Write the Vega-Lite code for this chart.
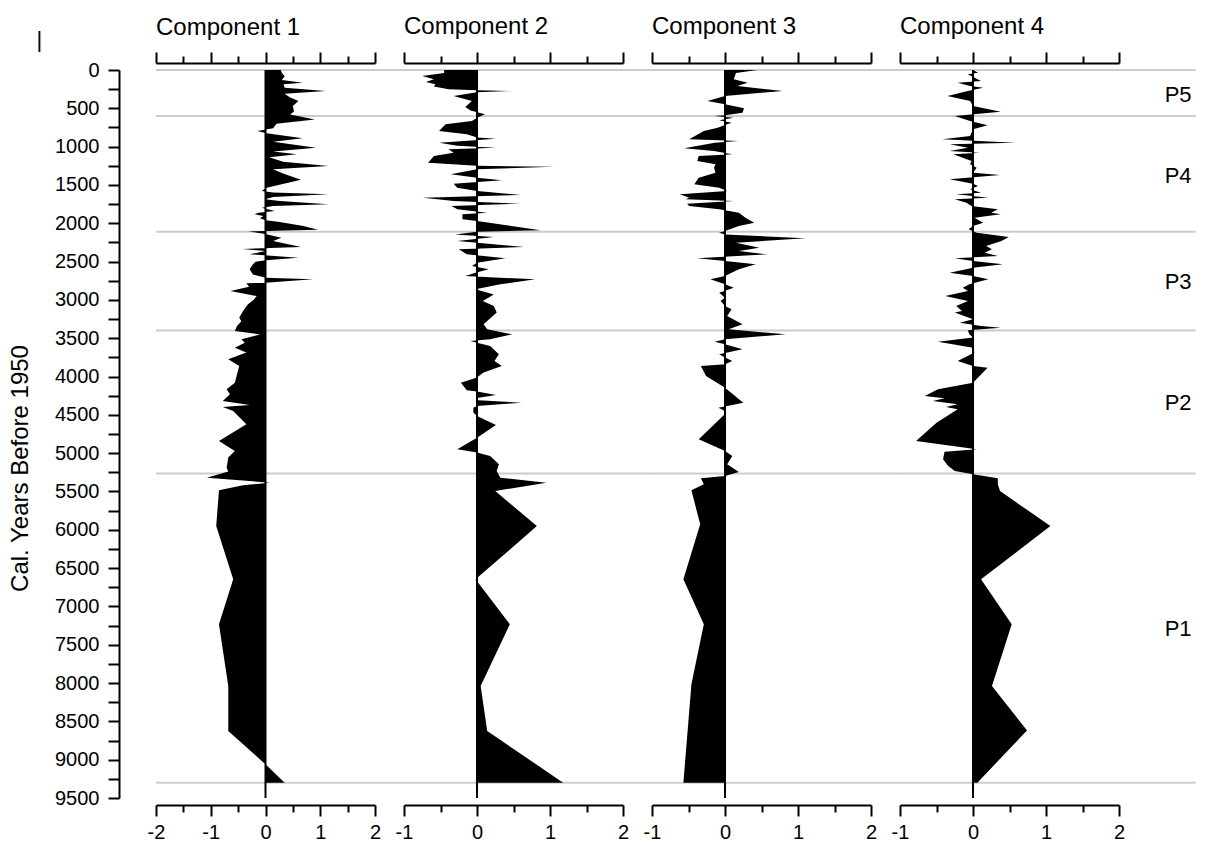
{
  "$schema": "https://vega.github.io/schema/vega-lite/v6.json",
  "background": "white",
  "padding": {"left": 8, "top": 15, "right": 3, "bottom": 2},
  "spacing": 29,
  "bounds": "flush",
  "config": {
    "font": "Liberation Sans",
    "view": {"stroke": null},
    "axis": {
      "domainColor": "black", "domainWidth": 2, "tickColor": "black", "tickWidth": 2,
      "labelColor": "black", "labelFont": "Liberation Sans", "labelFontSize": 20,
      "titleFont": "Liberation Sans", "titleColor": "black", "titleFontWeight": "normal",
      "grid": false, "labelOverlap": false, "labelFlush": false
    },
    "title": {"font": "Liberation Sans", "fontSize": 24, "fontWeight": "normal", "color": "black", "anchor": "start", "frame": "group", "offset": 12}
  },
  "datasets": {
    "boundaries": [{"year": 0}, {"year": 600}, {"year": 2110}, {"year": 3400}, {"year": 5265}, {"year": 9300}],
    "periods": [
      {"period": "P5", "year": 320}, {"period": "P4", "year": 1380}, {"period": "P3", "year": 2760},
      {"period": "P2", "year": 4345}, {"period": "P1", "year": 7300}
    ],
    "c1": [
      {"year": 0, "score": 0.28}, {"year": 40, "score": 0.3}, {"year": 80, "score": 0.35}, {"year": 130, "score": 0.3},
      {"year": 165, "score": 0.68}, {"year": 185, "score": 0.33}, {"year": 230, "score": 0.35}, {"year": 275, "score": 1.1},
      {"year": 310, "score": 0.35}, {"year": 360, "score": 0.45}, {"year": 405, "score": 0.6}, {"year": 470, "score": 0.5},
      {"year": 540, "score": 0.52}, {"year": 580, "score": 0.45}, {"year": 645, "score": 0.9}, {"year": 700, "score": 0.2},
      {"year": 760, "score": 0.14}, {"year": 796, "score": -0.15}, {"year": 826, "score": 0.02}, {"year": 892, "score": 0.68},
      {"year": 935, "score": 0.14}, {"year": 1013, "score": 0.92}, {"year": 1065, "score": 0.14}, {"year": 1100, "score": 0.57},
      {"year": 1140, "score": 0.07}, {"year": 1196, "score": 0.32}, {"year": 1253, "score": 1.15}, {"year": 1296, "score": 0.14},
      {"year": 1352, "score": 0.32}, {"year": 1431, "score": 0.65}, {"year": 1535, "score": 0.02}, {"year": 1579, "score": -0.07},
      {"year": 1600, "score": 0.14}, {"year": 1622, "score": 1.15}, {"year": 1657, "score": 0.14}, {"year": 1688, "score": -0.01},
      {"year": 1710, "score": 0.26}, {"year": 1753, "score": 1.15}, {"year": 1775, "score": 0.14}, {"year": 1797, "score": -0.07},
      {"year": 1840, "score": 0.17}, {"year": 1862, "score": -0.13}, {"year": 1884, "score": -0.2}, {"year": 1906, "score": -0.04},
      {"year": 1936, "score": -0.1}, {"year": 1962, "score": 0}, {"year": 1984, "score": 0.26}, {"year": 2036, "score": 0.69},
      {"year": 2085, "score": 0.96}, {"year": 2105, "score": -0.32}, {"year": 2140, "score": 0}, {"year": 2190, "score": 0.29},
      {"year": 2230, "score": 0.14}, {"year": 2310, "score": 0.65}, {"year": 2336, "score": -0.42}, {"year": 2362, "score": 0},
      {"year": 2405, "score": -0.29}, {"year": 2449, "score": 0.6}, {"year": 2484, "score": 0}, {"year": 2501, "score": -0.18},
      {"year": 2536, "score": -0.23}, {"year": 2601, "score": -0.29}, {"year": 2667, "score": -0.23}, {"year": 2710, "score": 0},
      {"year": 2732, "score": 0.87}, {"year": 2775, "score": 0}, {"year": 2784, "score": -0.35}, {"year": 2830, "score": -0.3},
      {"year": 2884, "score": -0.64}, {"year": 2950, "score": -0.16}, {"year": 3000, "score": -0.22}, {"year": 3058, "score": -0.32},
      {"year": 3145, "score": -0.41}, {"year": 3232, "score": -0.48}, {"year": 3280, "score": -0.44}, {"year": 3340, "score": -0.52},
      {"year": 3405, "score": -0.56}, {"year": 3450, "score": -0.1}, {"year": 3514, "score": -0.44}, {"year": 3558, "score": -0.38},
      {"year": 3623, "score": -0.56}, {"year": 3688, "score": -0.35}, {"year": 3775, "score": -0.68}, {"year": 3862, "score": -0.48},
      {"year": 4080, "score": -0.56}, {"year": 4167, "score": -0.71}, {"year": 4232, "score": -0.65}, {"year": 4319, "score": -0.78},
      {"year": 4371, "score": -0.29}, {"year": 4397, "score": -0.78}, {"year": 4450, "score": -0.59}, {"year": 4624, "score": -0.35},
      {"year": 4841, "score": -0.85}, {"year": 4971, "score": -0.56}, {"year": 5058, "score": -0.68}, {"year": 5189, "score": -0.71},
      {"year": 5240, "score": -0.68}, {"year": 5320, "score": -1.07}, {"year": 5385, "score": 0.08}, {"year": 5420, "score": -0.41},
      {"year": 5485, "score": -0.85}, {"year": 5951, "score": -0.9}, {"year": 6647, "score": -0.59}, {"year": 7234, "score": -0.85},
      {"year": 8039, "score": -0.68}, {"year": 8626, "score": -0.68}, {"year": 9061, "score": 0}, {"year": 9300, "score": 0.35}
    ],
    "c2": [
      {"year": 0, "score": -0.45}, {"year": 40, "score": -0.45}, {"year": 78, "score": -0.75}, {"year": 120, "score": -0.59},
      {"year": 157, "score": -0.7}, {"year": 185, "score": -0.57}, {"year": 215, "score": -0.59}, {"year": 252, "score": -0.39},
      {"year": 265, "score": 0}, {"year": 274, "score": 0.48}, {"year": 290, "score": 0}, {"year": 339, "score": -0.32},
      {"year": 405, "score": -0.07}, {"year": 483, "score": -0.16}, {"year": 530, "score": -0.09}, {"year": 579, "score": 0.11},
      {"year": 622, "score": 0}, {"year": 666, "score": -0.07}, {"year": 709, "score": -0.43}, {"year": 796, "score": -0.52},
      {"year": 840, "score": -0.14}, {"year": 880, "score": 0}, {"year": 896, "score": 0.26}, {"year": 948, "score": -0.52},
      {"year": 990, "score": -0.27}, {"year": 1013, "score": 0.26}, {"year": 1035, "score": -0.39}, {"year": 1079, "score": -0.32},
      {"year": 1122, "score": -0.59}, {"year": 1209, "score": -0.67}, {"year": 1250, "score": 0}, {"year": 1262, "score": 1.05},
      {"year": 1296, "score": 0}, {"year": 1362, "score": -0.36}, {"year": 1405, "score": 0}, {"year": 1440, "score": 0.34},
      {"year": 1483, "score": -0.32}, {"year": 1536, "score": -0.27}, {"year": 1579, "score": 0}, {"year": 1631, "score": 0.6},
      {"year": 1666, "score": -0.74}, {"year": 1710, "score": -0.32}, {"year": 1744, "score": 0.6}, {"year": 1775, "score": -0.35},
      {"year": 1818, "score": -0.27}, {"year": 1862, "score": 0.14}, {"year": 1884, "score": -0.2}, {"year": 1949, "score": -0.2},
      {"year": 1970, "score": 0}, {"year": 2092, "score": 0.87}, {"year": 2110, "score": 0}, {"year": 2145, "score": -0.3},
      {"year": 2180, "score": 0.23}, {"year": 2232, "score": -0.27}, {"year": 2253, "score": 0}, {"year": 2310, "score": 0.64},
      {"year": 2340, "score": -0.25}, {"year": 2405, "score": -0.14}, {"year": 2458, "score": 0.39}, {"year": 2514, "score": 0},
      {"year": 2557, "score": -0.07}, {"year": 2601, "score": 0.16}, {"year": 2645, "score": -0.02}, {"year": 2688, "score": -0.16},
      {"year": 2732, "score": 0.8}, {"year": 2797, "score": 0.32}, {"year": 2862, "score": -0.02}, {"year": 2928, "score": 0.23},
      {"year": 3014, "score": 0.08}, {"year": 3080, "score": 0.23}, {"year": 3166, "score": 0.27}, {"year": 3275, "score": 0.14},
      {"year": 3319, "score": 0.09}, {"year": 3384, "score": 0.14}, {"year": 3449, "score": 0.48}, {"year": 3514, "score": 0.18},
      {"year": 3536, "score": -0.09}, {"year": 3558, "score": 0}, {"year": 3601, "score": 0.18}, {"year": 3710, "score": 0.3},
      {"year": 3797, "score": 0.24}, {"year": 3862, "score": 0.34}, {"year": 3949, "score": 0.09}, {"year": 4014, "score": 0},
      {"year": 4080, "score": -0.22}, {"year": 4180, "score": -0.14}, {"year": 4197, "score": 0}, {"year": 4241, "score": 0.26},
      {"year": 4284, "score": -0.02}, {"year": 4310, "score": 0.02}, {"year": 4341, "score": 0.61}, {"year": 4384, "score": 0},
      {"year": 4406, "score": -0.05}, {"year": 4471, "score": -0.05}, {"year": 4514, "score": 0}, {"year": 4632, "score": 0.26},
      {"year": 4798, "score": 0}, {"year": 4950, "score": -0.27}, {"year": 4993, "score": 0}, {"year": 5037, "score": 0.18},
      {"year": 5146, "score": 0.3}, {"year": 5233, "score": 0.27}, {"year": 5320, "score": 0.32}, {"year": 5385, "score": 0.95},
      {"year": 5494, "score": 0.25}, {"year": 5951, "score": 0.82}, {"year": 6647, "score": -0.02}, {"year": 7234, "score": 0.45},
      {"year": 8039, "score": 0.05}, {"year": 8626, "score": 0.14}, {"year": 9300, "score": 1.18}
    ],
    "c3": [
      {"year": 0, "score": 0.44}, {"year": 40, "score": 0.15}, {"year": 122, "score": 0.12}, {"year": 165, "score": 0.31},
      {"year": 210, "score": 0.17}, {"year": 274, "score": 0.79}, {"year": 339, "score": 0}, {"year": 405, "score": -0.24},
      {"year": 448, "score": 0}, {"year": 500, "score": 0.26}, {"year": 557, "score": 0.24}, {"year": 590, "score": 0},
      {"year": 600, "score": -0.15}, {"year": 622, "score": 0.12}, {"year": 657, "score": -0.08}, {"year": 687, "score": 0.09},
      {"year": 718, "score": 0}, {"year": 753, "score": -0.1}, {"year": 796, "score": -0.29}, {"year": 905, "score": -0.49},
      {"year": 918, "score": -0.08}, {"year": 926, "score": 0.18}, {"year": 948, "score": -0.14}, {"year": 1022, "score": -0.56},
      {"year": 1057, "score": -0.15}, {"year": 1100, "score": 0.1}, {"year": 1122, "score": -0.36}, {"year": 1188, "score": -0.38},
      {"year": 1231, "score": -0.13}, {"year": 1275, "score": -0.15}, {"year": 1340, "score": -0.13}, {"year": 1405, "score": -0.36},
      {"year": 1492, "score": -0.42}, {"year": 1536, "score": -0.08}, {"year": 1579, "score": 0.03}, {"year": 1622, "score": -0.62},
      {"year": 1666, "score": -0.49}, {"year": 1688, "score": -0.54}, {"year": 1710, "score": 0.12}, {"year": 1744, "score": -0.52},
      {"year": 1775, "score": -0.49}, {"year": 1818, "score": -0.08}, {"year": 1862, "score": 0.19}, {"year": 1927, "score": 0.28},
      {"year": 1992, "score": 0.4}, {"year": 2036, "score": 0.19}, {"year": 2101, "score": 0}, {"year": 2123, "score": -0.08},
      {"year": 2145, "score": 0}, {"year": 2197, "score": 1.1}, {"year": 2253, "score": 0.15}, {"year": 2319, "score": 0.47},
      {"year": 2362, "score": 0.19}, {"year": 2405, "score": 0.58}, {"year": 2458, "score": -0.38}, {"year": 2492, "score": 0},
      {"year": 2536, "score": 0.42}, {"year": 2601, "score": 0.19}, {"year": 2688, "score": 0}, {"year": 2732, "score": -0.2},
      {"year": 2797, "score": 0}, {"year": 2841, "score": 0.12}, {"year": 2906, "score": -0.08}, {"year": 2971, "score": 0},
      {"year": 3014, "score": -0.06}, {"year": 3080, "score": 0}, {"year": 3123, "score": 0.09}, {"year": 3210, "score": 0.03},
      {"year": 3319, "score": 0.24}, {"year": 3384, "score": 0.05}, {"year": 3449, "score": 0.83}, {"year": 3514, "score": 0},
      {"year": 3545, "score": -0.14}, {"year": 3580, "score": 0}, {"year": 3645, "score": 0.24}, {"year": 3710, "score": -0.08},
      {"year": 3753, "score": 0}, {"year": 3797, "score": 0.1}, {"year": 3840, "score": 0}, {"year": 3862, "score": -0.33},
      {"year": 3993, "score": -0.26}, {"year": 4145, "score": 0}, {"year": 4210, "score": 0.08}, {"year": 4341, "score": 0.25},
      {"year": 4406, "score": -0.09}, {"year": 4450, "score": 0}, {"year": 4490, "score": 0}, {"year": 4819, "score": -0.36},
      {"year": 4971, "score": 0}, {"year": 5037, "score": 0.1}, {"year": 5145, "score": 0.03}, {"year": 5245, "score": 0.19},
      {"year": 5298, "score": 0}, {"year": 5329, "score": -0.33}, {"year": 5407, "score": -0.29}, {"year": 5485, "score": -0.46},
      {"year": 5929, "score": -0.34}, {"year": 6647, "score": -0.57}, {"year": 7234, "score": -0.29}, {"year": 8017, "score": -0.46},
      {"year": 9300, "score": -0.57}
    ],
    "c4": [
      {"year": 0, "score": 0}, {"year": 35, "score": 0.07}, {"year": 57, "score": -0.07}, {"year": 100, "score": 0.02},
      {"year": 144, "score": 0.11}, {"year": 165, "score": -0.21}, {"year": 210, "score": -0.04}, {"year": 231, "score": 0.14},
      {"year": 275, "score": -0.07}, {"year": 339, "score": -0.35}, {"year": 405, "score": -0.04}, {"year": 470, "score": 0},
      {"year": 544, "score": 0.38}, {"year": 600, "score": -0.25}, {"year": 666, "score": -0.04}, {"year": 722, "score": 0.2},
      {"year": 774, "score": 0}, {"year": 861, "score": -0.04}, {"year": 905, "score": -0.42}, {"year": 948, "score": 0.58},
      {"year": 970, "score": -0.32}, {"year": 1013, "score": -0.07}, {"year": 1057, "score": -0.32}, {"year": 1079, "score": 0.09},
      {"year": 1100, "score": -0.27}, {"year": 1188, "score": -0.02}, {"year": 1231, "score": -0.04}, {"year": 1275, "score": 0.05},
      {"year": 1340, "score": 0}, {"year": 1370, "score": 0.37}, {"year": 1427, "score": -0.32}, {"year": 1483, "score": 0},
      {"year": 1514, "score": 0.07}, {"year": 1557, "score": -0.04}, {"year": 1601, "score": 0.11}, {"year": 1622, "score": -0.23},
      {"year": 1666, "score": 0.21}, {"year": 1688, "score": -0.25}, {"year": 1731, "score": -0.09}, {"year": 1775, "score": -0.02},
      {"year": 1818, "score": 0.34}, {"year": 1862, "score": 0.25}, {"year": 1884, "score": 0.38}, {"year": 1927, "score": 0.02},
      {"year": 1992, "score": 0.14}, {"year": 2036, "score": 0}, {"year": 2079, "score": -0.06}, {"year": 2123, "score": 0.05},
      {"year": 2180, "score": 0.49}, {"year": 2232, "score": 0.39}, {"year": 2297, "score": 0.18}, {"year": 2340, "score": 0.26},
      {"year": 2384, "score": 0.16}, {"year": 2427, "score": 0.34}, {"year": 2458, "score": -0.25}, {"year": 2492, "score": 0},
      {"year": 2536, "score": 0.41}, {"year": 2580, "score": 0}, {"year": 2645, "score": -0.32}, {"year": 2688, "score": 0},
      {"year": 2732, "score": 0.21}, {"year": 2797, "score": -0.05}, {"year": 2841, "score": -0.14}, {"year": 2884, "score": -0.07},
      {"year": 2949, "score": -0.38}, {"year": 3014, "score": -0.07}, {"year": 3080, "score": -0.23}, {"year": 3145, "score": -0.15},
      {"year": 3166, "score": -0.25}, {"year": 3253, "score": 0}, {"year": 3297, "score": -0.18}, {"year": 3340, "score": 0.11},
      {"year": 3362, "score": 0.38}, {"year": 3397, "score": -0.07}, {"year": 3449, "score": -0.05}, {"year": 3492, "score": 0},
      {"year": 3545, "score": -0.48}, {"year": 3623, "score": 0}, {"year": 3688, "score": 0.02}, {"year": 3797, "score": -0.21},
      {"year": 3862, "score": 0}, {"year": 3884, "score": 0.2}, {"year": 4080, "score": 0}, {"year": 4167, "score": -0.48},
      {"year": 4254, "score": -0.66}, {"year": 4284, "score": -0.39}, {"year": 4319, "score": -0.55}, {"year": 4362, "score": -0.21},
      {"year": 4397, "score": -0.37}, {"year": 4428, "score": -0.21}, {"year": 4602, "score": -0.5}, {"year": 4841, "score": -0.78},
      {"year": 4950, "score": 0.05}, {"year": 4980, "score": -0.39}, {"year": 5080, "score": -0.41}, {"year": 5167, "score": -0.34},
      {"year": 5233, "score": -0.25}, {"year": 5276, "score": 0}, {"year": 5329, "score": 0.34}, {"year": 5407, "score": 0.34},
      {"year": 5494, "score": 0.37}, {"year": 5951, "score": 1.06}, {"year": 6647, "score": 0.11}, {"year": 7234, "score": 0.53},
      {"year": 8039, "score": 0.26}, {"year": 8618, "score": 0.74}, {"year": 9300, "score": 0.06}
    ]
  },
  "resolve": {"scale": {"x": "independent", "y": "independent"}, "axis": {"x": "independent", "y": "independent"}},
  "hconcat": [
    {
      "width": 219, "height": 728,
      "title": {"text": "Component 1", "offset": -11},
      "resolve": {"axis": {"x": "independent", "y": "independent"}},
      "layer": [
        {
          "data": {"name": "boundaries"},
          "mark": {"type": "rule", "color": "#cccccc", "strokeWidth": 2},
          "encoding": {
            "y": {"field": "year", "type": "quantitative", "scale": {"domain": [0, 9500], "reverse": true, "nice": false}, "axis": null},
            "x": {"datum": -2, "type": "quantitative", "scale": {"domain": [-2, 2], "nice": false}, "axis": null},
            "x2": {"datum": 2.53}
          }
        },
        {
          "data": {"name": "c1"},
          "mark": {"type": "area", "orient": "horizontal", "color": "black"},
          "encoding": {
            "y": {
              "field": "year", "type": "quantitative",
              "scale": {"domain": [0, 9500], "reverse": true, "nice": false},
              "axis": {
                "orient": "left", "offset": 37, "tickSize": 11, "labelPadding": 9,
                "values": [0, 250, 500, 750, 1000, 1250, 1500, 1750, 2000, 2250, 2500, 2750, 3000, 3250, 3500, 3750, 4000, 4250, 4500, 4750, 5000, 5250, 5500, 5750, 6000, 6250, 6500, 6750, 7000, 7250, 7500, 7750, 8000, 8250, 8500, 8750, 9000, 9250, 9500],
                "labelExpr": "datum.value % 500 === 0 ? '' + datum.value : ''",
                "title": "Cal. Years Before 1950", "titleFontSize": 24, "titlePadding": 22, "titleY": 398
              }
            },
            "x": {
              "field": "score", "type": "quantitative", "stack": null,
              "scale": {"domain": [-2, 2], "nice": false},
              "axis": {
                "orient": "bottom", "offset": 7, "title": null, "labelPadding": 6,
                "values": [-2, -1.5, -1, -0.5, 0, 0.5, 1, 1.5, 2],
                "tickSize": {"condition": {"test": "datum.value % 1 === 0", "value": 11}, "value": 7},
                "labelExpr": "datum.value % 1 === 0 ? '' + datum.value : ''"
              }
            }
          }
        },
        {
          "data": {"values": [{}]},
          "mark": {"type": "rule", "color": "black", "strokeWidth": 2},
          "encoding": {
            "x": {
              "datum": 0, "type": "quantitative", "scale": {"domain": [-2, 2], "nice": false},
              "axis": {
                "orient": "top", "offset": 7, "title": null, "labels": false,
                "values": [-2, -1.5, -1, -0.5, 0, 0.5, 1, 1.5, 2],
                "tickSize": {"condition": {"test": "datum.value % 1 === 0", "value": 11}, "value": 7}
              }
            },
            "y": {"datum": 0, "type": "quantitative", "scale": {"domain": [0, 9500], "reverse": true, "nice": false}, "axis": null},
            "y2": {"datum": 9500}
          }
        },
        {
          "data": {"values": [{}]},
          "mark": {"type": "text", "text": "|", "fontSize": 22, "color": "black", "align": "center", "baseline": "middle"},
          "encoding": {
            "x": {"datum": -4.13, "type": "quantitative", "scale": {"domain": [-2, 2], "nice": false}, "axis": null},
            "y": {"datum": -391, "type": "quantitative", "scale": {"domain": [0, 9500], "reverse": true, "nice": false}, "axis": null}
          }
        }
      ]
    },
    {
      "width": 219, "height": 728,
      "title": {"text": "Component 2"},
      "resolve": {"axis": {"x": "independent", "y": "independent"}},
      "layer": [
        {
          "data": {"name": "boundaries"},
          "mark": {"type": "rule", "color": "#cccccc", "strokeWidth": 2},
          "encoding": {
            "y": {"field": "year", "type": "quantitative", "scale": {"domain": [0, 9500], "reverse": true, "nice": false}, "axis": null},
            "x": {"datum": -1, "type": "quantitative", "scale": {"domain": [-1, 2], "nice": false}, "axis": null},
            "x2": {"datum": 2.4}
          }
        },
        {
          "data": {"name": "c2"},
          "mark": {"type": "area", "orient": "horizontal", "color": "black"},
          "encoding": {
            "y": {"field": "year", "type": "quantitative", "scale": {"domain": [0, 9500], "reverse": true, "nice": false}, "axis": null},
            "x": {
              "field": "score", "type": "quantitative", "stack": null,
              "scale": {"domain": [-1, 2], "nice": false},
              "axis": {
                "orient": "bottom", "offset": 7, "title": null, "labelPadding": 6,
                "values": [-1, -0.5, 0, 0.5, 1, 1.5, 2],
                "tickSize": {"condition": {"test": "datum.value % 1 === 0", "value": 11}, "value": 7},
                "labelExpr": "datum.value % 1 === 0 ? '' + datum.value : ''"
              }
            }
          }
        },
        {
          "data": {"values": [{}]},
          "mark": {"type": "rule", "color": "black", "strokeWidth": 2},
          "encoding": {
            "x": {
              "datum": 0, "type": "quantitative", "scale": {"domain": [-1, 2], "nice": false},
              "axis": {
                "orient": "top", "offset": 7, "title": null, "labels": false,
                "values": [-1, -0.5, 0, 0.5, 1, 1.5, 2],
                "tickSize": {"condition": {"test": "datum.value % 1 === 0", "value": 11}, "value": 7}
              }
            },
            "y": {"datum": 0, "type": "quantitative", "scale": {"domain": [0, 9500], "reverse": true, "nice": false}, "axis": null},
            "y2": {"datum": 9500}
          }
        }
      ]
    },
    {
      "width": 219, "height": 728,
      "title": {"text": "Component 3"},
      "resolve": {"axis": {"x": "independent", "y": "independent"}},
      "layer": [
        {
          "data": {"name": "boundaries"},
          "mark": {"type": "rule", "color": "#cccccc", "strokeWidth": 2},
          "encoding": {
            "y": {"field": "year", "type": "quantitative", "scale": {"domain": [0, 9500], "reverse": true, "nice": false}, "axis": null},
            "x": {"datum": -1, "type": "quantitative", "scale": {"domain": [-1, 2], "nice": false}, "axis": null},
            "x2": {"datum": 2.4}
          }
        },
        {
          "data": {"name": "c3"},
          "mark": {"type": "area", "orient": "horizontal", "color": "black"},
          "encoding": {
            "y": {"field": "year", "type": "quantitative", "scale": {"domain": [0, 9500], "reverse": true, "nice": false}, "axis": null},
            "x": {
              "field": "score", "type": "quantitative", "stack": null,
              "scale": {"domain": [-1, 2], "nice": false},
              "axis": {
                "orient": "bottom", "offset": 7, "title": null, "labelPadding": 6,
                "values": [-1, -0.5, 0, 0.5, 1, 1.5, 2],
                "tickSize": {"condition": {"test": "datum.value % 1 === 0", "value": 11}, "value": 7},
                "labelExpr": "datum.value % 1 === 0 ? '' + datum.value : ''"
              }
            }
          }
        },
        {
          "data": {"values": [{}]},
          "mark": {"type": "rule", "color": "black", "strokeWidth": 2},
          "encoding": {
            "x": {
              "datum": 0, "type": "quantitative", "scale": {"domain": [-1, 2], "nice": false},
              "axis": {
                "orient": "top", "offset": 7, "title": null, "labels": false,
                "values": [-1, -0.5, 0, 0.5, 1, 1.5, 2],
                "tickSize": {"condition": {"test": "datum.value % 1 === 0", "value": 11}, "value": 7}
              }
            },
            "y": {"datum": 0, "type": "quantitative", "scale": {"domain": [0, 9500], "reverse": true, "nice": false}, "axis": null},
            "y2": {"datum": 9500}
          }
        }
      ]
    },
    {
      "width": 219, "height": 728,
      "title": {"text": "Component 4"},
      "resolve": {"axis": {"x": "independent", "y": "independent"}},
      "layer": [
        {
          "data": {"name": "boundaries"},
          "mark": {"type": "rule", "color": "#cccccc", "strokeWidth": 2},
          "encoding": {
            "y": {"field": "year", "type": "quantitative", "scale": {"domain": [0, 9500], "reverse": true, "nice": false}, "axis": null},
            "x": {"datum": -1, "type": "quantitative", "scale": {"domain": [-1, 2], "nice": false}, "axis": null},
            "x2": {"datum": 3.05}
          }
        },
        {
          "data": {"name": "c4"},
          "mark": {"type": "area", "orient": "horizontal", "color": "black"},
          "encoding": {
            "y": {"field": "year", "type": "quantitative", "scale": {"domain": [0, 9500], "reverse": true, "nice": false}, "axis": null},
            "x": {
              "field": "score", "type": "quantitative", "stack": null,
              "scale": {"domain": [-1, 2], "nice": false},
              "axis": {
                "orient": "bottom", "offset": 7, "title": null, "labelPadding": 6,
                "values": [-1, -0.5, 0, 0.5, 1, 1.5, 2],
                "tickSize": {"condition": {"test": "datum.value % 1 === 0", "value": 11}, "value": 7},
                "labelExpr": "datum.value % 1 === 0 ? '' + datum.value : ''"
              }
            }
          }
        },
        {
          "data": {"values": [{}]},
          "mark": {"type": "rule", "color": "black", "strokeWidth": 2},
          "encoding": {
            "x": {
              "datum": 0, "type": "quantitative", "scale": {"domain": [-1, 2], "nice": false},
              "axis": {
                "orient": "top", "offset": 7, "title": null, "labels": false,
                "values": [-1, -0.5, 0, 0.5, 1, 1.5, 2],
                "tickSize": {"condition": {"test": "datum.value % 1 === 0", "value": 11}, "value": 7}
              }
            },
            "y": {"datum": 0, "type": "quantitative", "scale": {"domain": [0, 9500], "reverse": true, "nice": false}, "axis": null},
            "y2": {"datum": 9500}
          }
        },
        {
          "data": {"name": "periods"},
          "mark": {"type": "text", "fontSize": 22, "color": "black", "align": "center", "baseline": "middle"},
          "encoding": {
            "x": {"datum": 2.81, "type": "quantitative", "scale": {"domain": [-1, 2], "nice": false}, "axis": null},
            "y": {"field": "year", "type": "quantitative", "scale": {"domain": [0, 9500], "reverse": true, "nice": false}, "axis": null},
            "text": {"field": "period"}
          }
        }
      ]
    }
  ]
}
